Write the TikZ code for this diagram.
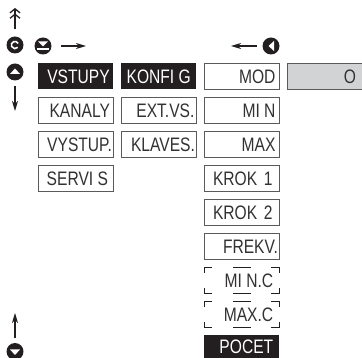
\documentclass[tikz,border=0pt]{standalone}
\usepackage{fontspec}
\setmainfont[FakeStretch=0.8]{Liberation Sans}
\usetikzlibrary{arrows.meta,calc}
\definecolor{ink}{HTML}{231F20}
\definecolor{txt}{HTML}{333132}
\definecolor{edge}{HTML}{5A5A5A}
\definecolor{sel}{HTML}{D1D3D4}
\newcommand{\tg}{\kern-2.2pt}
\tikzset{
  boxbase/.style={anchor=north west,minimum height=26pt,inner ysep=6pt,text height=14pt,text depth=0pt,align=right,font=\fontsize{19.5pt}{19.5pt}\selectfont},
  box/.style={boxbase,draw=edge,line width=0.9pt,fill=white,text=txt,inner xsep=#1,text width=75pt-2*#1},
  dark/.style={boxbase,fill=ink,text=white,inner xsep=#1,text width=75pt-2*#1},
  plain/.style={boxbase,text=txt,inner xsep=#1,text width=75pt-2*#1},
  grey/.style={boxbase,draw=edge,line width=0.9pt,fill=sel,text=txt,inner xsep=#1,text width=75pt-2*#1},
  icon/.style={circle,fill=ink,minimum size=17pt,inner sep=0pt},
  arr/.style={ink,line width=1.2pt,-{Stealth[length=10pt,width=6pt,inset=3pt]}},
  arrd/.style={ink,line width=1.2pt,-{Straight Barb[length=4pt,width=10pt,line width=1.3pt]Straight Barb[length=4pt,width=10pt,line width=1.3pt]}},
  cut/.style={ink,line width=0.8pt},
}
\begin{document}
\begin{tikzpicture}[x=1pt,y=-1pt]
\useasboundingbox (0,0) rectangle (362,358);
% column 1
\node[dark=3pt] (vstupy) at (37.5,63) {VSTUPY};
\node[box=3pt] (kanaly) at (37.5,97) {KANALY};
\node[box=1pt] (vystup) at (37.5,131) {VYSTUP.};
\node[box=5pt] (servis) at (37.5,165) {SERVI \tg S};
% column 2
\node[dark=5pt] (konfig) at (120.5,63) {KONFI \tg G};
\node[box=1.5pt] (extvs) at (120.5,97) {EXT.VS.};
\node[box=1pt] (klaves) at (120.5,131) {KLAVES.};
% column 3
\node[box=4pt] (mod) at (204,63) {MOD};
\node[box=4pt] (min) at (204,97) {MI \tg N};
\node[box=4pt] (max) at (204,131) {MAX};
\node[box=7pt] (krok1) at (204,165) {KROK 1};
\node[box=7pt] (krok2) at (204,199) {KROK 2};
\node[box=1.5pt] (frekv) at (204,233) {FREKV.};
\node[plain=6pt] (minc) at (204,267) {MI \tg N.C};
\node[plain=6pt] (maxc) at (204,301) {MAX.C};
\node[dark=6pt,minimum height=23pt,inner ysep=4.5pt] (pocet) at (204,335) {POCET};
% column 4
\node[grey=6pt,text width=62.5pt] (o) at (287,63) {O};
% dashed outlines
\foreach \n in {minc,maxc}{
  \draw[cut] ([shift={(0,6)}]\n.north west) -- (\n.north west) -- ([shift={(8,0)}]\n.north west);
  \draw[cut] ([shift={(-8,0)}]\n.north east) -- (\n.north east) -- ([shift={(0,6)}]\n.north east);
  \draw[cut] ([shift={(0,-5)}]\n.south west) -- (\n.south west) -- ([shift={(8,0)}]\n.south west);
  \draw[cut] ([shift={(-8,0)}]\n.south east) -- (\n.south east) -- ([shift={(0,-5)}]\n.south east);
  \draw[cut] ([shift={(29,0)}]\n.north west) -- ([shift={(47,0)}]\n.north west);
  \draw[cut] ([shift={(29,0)}]\n.south west) -- ([shift={(47,0)}]\n.south west);
}
% icons
\node[icon] (rot) at (15,45) {};
\node[icon] (down) at (43,46) {};
\node[icon] (up) at (15,72) {};
\node[icon] (left) at (271,46) {};
\node[icon] (bot) at (15,351.5) {};
% rotate glyph
\draw[white,line width=1.6pt] ([shift={(3.2,-1.5)}]rot.center) arc[start angle=-25,end angle=-320,radius=3.6];
% down glyph with bar
\fill[white] ([shift={(-5,-4.5)}]down.center) -- ([shift={(5,-4.5)}]down.center) -- ([shift={(0,0.5)}]down.center) -- cycle;
\draw[white,line width=1.2pt] ([shift={(-6,3)}]down.center) -- ([shift={(6,3)}]down.center);
% up glyph
\fill[white] ([shift={(-5,2)}]up.center) -- ([shift={(5,2)}]up.center) -- ([shift={(0,-3.5)}]up.center) -- cycle;
% left glyph
\fill[white] ([shift={(-2.5,0)}]left.center) -- ([shift={(3,-5)}]left.center) -- ([shift={(3,5)}]left.center) -- cycle;
% bottom glyph
\fill[white] ([shift={(-5,-2)}]bot.center) -- ([shift={(5,-2)}]bot.center) -- ([shift={(0,3.5)}]bot.center) -- cycle;
% arrows
\coordinate (a1) at (15,8);
\coordinate (a1s) at (15,29.5);
\draw[arrd] (a1s) -- (a1);
\coordinate (a2) at (86,46);
\coordinate (a2s) at (61,46);
\draw[arr] (a2s) -- (a2);
\coordinate (a3) at (231,46);
\coordinate (a3s) at (257,46);
\draw[arr] (a3s) -- (a3);
\coordinate (a4) at (15,111);
\coordinate (a4s) at (15,86.5);
\draw[arr] (a4s) -- (a4);
\coordinate (a5) at (15,313);
\coordinate (a5s) at (15,338);
\draw[arr] (a5s) -- (a5);
\end{tikzpicture}
\end{document}
